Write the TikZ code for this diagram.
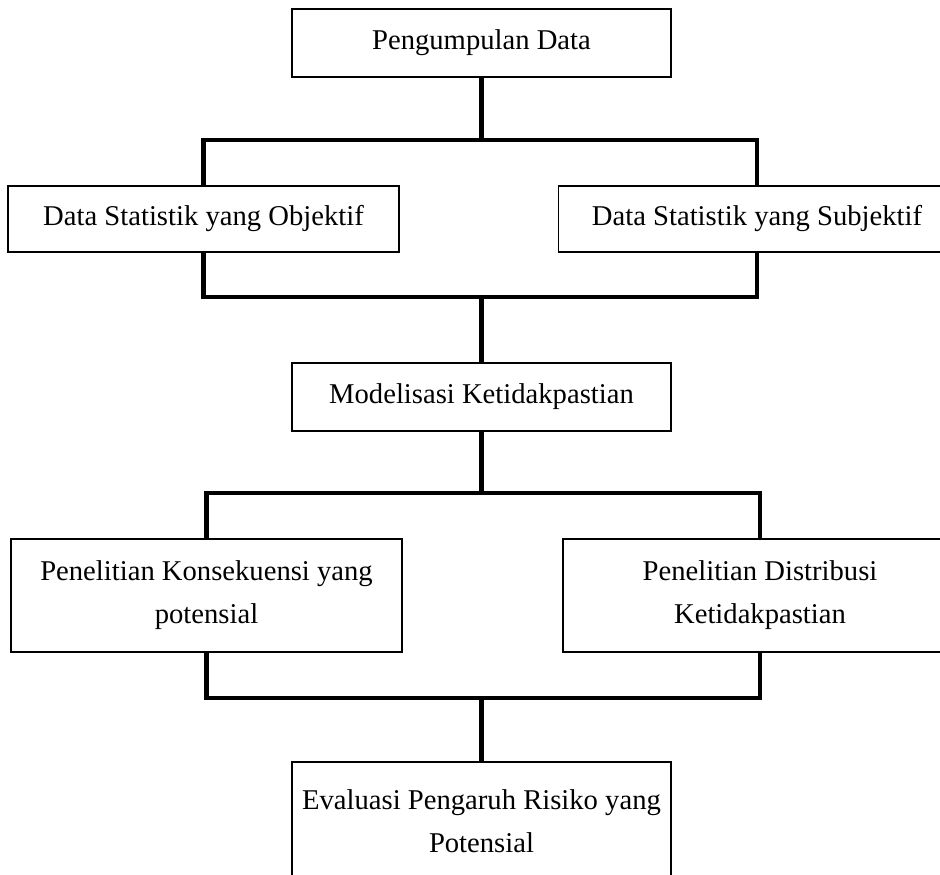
\documentclass[tikz,border=0pt]{standalone}
\usepackage{fontspec}
\setmainfont{Liberation Serif}

\begin{document}
\begin{tikzpicture}[x=0.02cm,y=-0.02cm,
    box/.style={draw,line width=1pt,align=center,inner sep=0pt,
        font=\fontsize{16.3}{24.5}\selectfont},
    link/.style={line width=2.8pt}]

\clip (0,0) rectangle (940,875);

\node[box,minimum width=7.58cm,minimum height=1.36cm](P_Data) at (481.5,43) {Pengumpulan Data};
\node[box,minimum width=7.82cm,minimum height=1.32cm](P_Obj) at (203.5,219) {Data Statistik yang Objektif};
\node[box,minimum width=7.94cm,minimum height=1.32cm](P_Subj) at (757,219) {Data Statistik yang Subjektif};
\node[box,minimum width=7.58cm,minimum height=1.36cm](P_Mod) at (481.5,397) {Modelisasi Ketidakpastian};
\node[box,minimum width=7.82cm,minimum height=2.26cm](P_Kons) at (206.5,595.5) {Penelitian Konsekuensi yang\\potensial};
\node[box,minimum width=7.88cm,minimum height=2.26cm](P_Dist) at (760,595.5) {Penelitian Distribusi\\Ketidakpastian};
\node[box,minimum width=7.58cm,minimum height=2.36cm](P_Eval) at (481.5,821) {Evaluasi Pengaruh Risiko yang\\Potensial};

\coordinate (B_1) at (481.5,140);
\coordinate (B_2) at (481.5,297);
\coordinate (B_3) at (481.5,493);
\coordinate (B_4) at (481.5,698);

\draw[link] (P_Data) -- (B_1);
\draw[link] (P_Obj) |- (B_1) -| (P_Subj);
\draw[link] (P_Obj) |- (B_2) -| (P_Subj);
\draw[link] (B_2) -- (P_Mod);

\draw[link] (P_Mod) -- (B_3);
\draw[link] (P_Kons) |- (B_3) -| (P_Dist);
\draw[link] (P_Kons) |- (B_4) -| (P_Dist);
\draw[link] (B_4) -- (P_Eval);

\end{tikzpicture}
\end{document}
